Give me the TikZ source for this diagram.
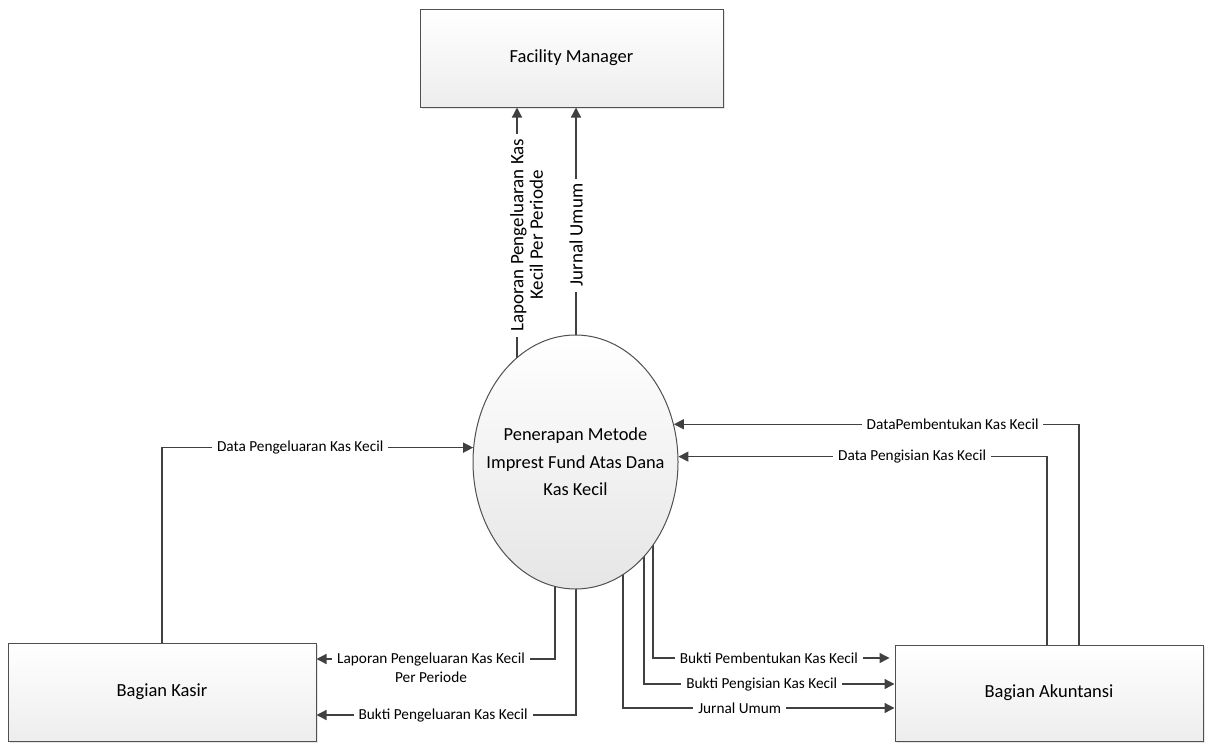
\documentclass[tikz,border=0pt]{standalone}
\usepackage{fontspec}
\setmainfont{Carlito}
\usetikzlibrary{arrows.meta,shapes.geometric,shadows,backgrounds}
\definecolor{ln}{HTML}{404040}
\definecolor{bd}{HTML}{505050}
\tikzset{
  ent/.style={draw=bd, line width=1pt, rectangle, top color=white, bottom color=gray!14,
    drop shadow={opacity=0.2, shadow xshift=2pt, shadow yshift=-2pt},
    font=\fontsize{18.5}{22}\selectfont, inner sep=0pt},
  proc/.style={draw=bd, line width=1pt, ellipse, top color=white, bottom color=gray!20,
    minimum width=205pt, minimum height=254pt, inner xsep=-20pt, inner ysep=0pt,
    font=\fontsize{18.4}{27.5}\selectfont, align=center},
  flow/.style={draw=ln, line width=1.3pt, -{Triangle[length=10pt,width=10pt]}},
  lab/.style={fill=white, inner xsep=5pt, inner ysep=1pt, text=black,
    font=\fontsize{15.3}{19}\selectfont, align=center},
  vlab/.style={lab, rotate=90, font=\fontsize{19}{19.5}\selectfont},
}
\begin{document}
\begin{tikzpicture}[x=1pt,y=-1pt]
\useasboundingbox (0,0) rectangle (1207,742);
\node[ent, minimum width=303pt, minimum height=98pt] (fm) at (571.5,58) {Facility Manager};
\node[ent, minimum width=308pt, minimum height=98pt] (kasir) at (162,692) {Bagian Kasir};
\node[ent, minimum width=308pt, minimum height=96pt] (akun) at (1049,693) {Bagian Akuntansi};
\node[proc] (ell) at (575.5,462) {Penerapan Metode\\Imprest Fund Atas Dana\\Kas Kecil};
\begin{scope}[on background layer]
% Kasir -> process
\draw[flow] (kasir.north) |- node[lab,pos=0.722]{Data Pengeluaran Kas Kecil} (ell.172.7);
% process -> Facility Manager
\draw[flow] ([xshift=-58.5pt]ell.center) -- node[vlab,pos=0.64,yshift=-9.5pt]{Laporan Pengeluaran Kas\\Kecil Per Periode} ([xshift=-58.5pt]ell.center |- fm.south);
\draw[flow] ([xshift=0.5pt]ell.center) -- node[vlab,pos=0.64]{Jurnal Umum} ([xshift=0.5pt]ell.center |- fm.south);
% Akuntansi -> process
\draw[flow] ([xshift=30pt]akun.north) |- node[lab,pos=0.656]{DataPembentukan Kas Kecil} (ell.21.2);
\draw[flow] ([xshift=-2pt]akun.north) |- node[lab,pos=0.683]{Data Pengisian Kas Kecil} (ell.3.9);
% process -> Kasir
\draw[flow] ([xshift=-20.5pt]ell.center) |- node[lab,pos=0.76,yshift=-9pt]{Laporan Pengeluaran Kas Kecil\\Per Periode} ([yshift=33pt]kasir.east);
\draw[flow] ([xshift=0.5pt]ell.center) |- node[lab,pos=0.756]{Bukti Pengeluaran Kas Kecil} ([yshift=-23pt]kasir.east);
% process -> Akuntansi
\draw[flow] ([xshift=77.5pt]ell.center) |- node[lab,pos=0.745]{Bukti Pembentukan Kas Kecil} ([xshift=-5pt,yshift=35pt]akun.west);
\draw[flow] ([xshift=68.5pt]ell.center) |- node[lab,pos=0.735]{Bukti Pengisian Kas Kecil} ([yshift=9pt]akun.west);
\draw[flow] ([xshift=47.5pt]ell.center) |- node[lab,pos=0.715]{Jurnal Umum} ([yshift=-15pt]akun.west);
\end{scope}
\end{tikzpicture}
\end{document}
